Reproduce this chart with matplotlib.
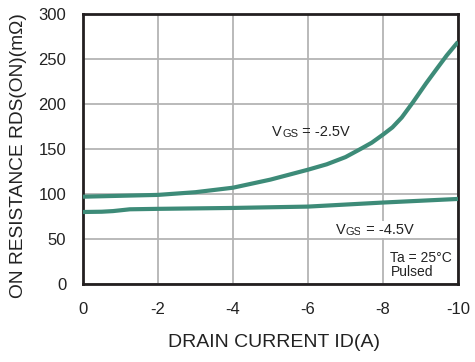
import matplotlib.pyplot as plt

plt.rcParams['font.family'] = ['Liberation Sans', 'DejaVu Sans']

# drain current (A) and on resistance (mOhm)
id_25 = [0, -1, -2, -3, -4, -5, -6, -6.5, -7, -7.4, -7.7, -8, -8.25, -8.5, -8.8,
         -9.15, -9.45, -9.7, -10]
rds_25 = [97, 98, 99, 102, 107, 116, 127, 133, 141, 150, 157, 166, 174, 185, 202,
          223, 240, 254, 269]

id_45 = [0, -0.5, -0.8, -1.25, -2, -4, -6, -8, -10]
rds_45 = [80, 80.3, 81, 83, 83.5, 84.5, 86, 90.5, 94.5]

x_ticks = [0, -2, -4, -6, -8, -10]
y_ticks = [0, 50, 100, 150, 200, 250, 300]

green = '#3d8b78'

fig = plt.figure(figsize=(4.75, 3.62), dpi=100)
ax = fig.add_axes([0.1747, 0.2155, 0.7895, 0.7458])

ax.plot(id_25, rds_25, color=green, lw=3, solid_capstyle='butt', zorder=3)
ax.plot(id_45, rds_45, color=green, lw=3, solid_capstyle='butt', zorder=3)

ax.set_xlim(0, -10)
ax.set_ylim(0, 300)
ax.set_xticks(x_ticks)
ax.set_yticks(y_ticks)
ax.set_xticklabels([str(v) for v in x_ticks])
ax.grid(True, color='#b4b4b4', lw=1.3)
ax.set_axisbelow(True)
ax.tick_params(length=0, labelsize=12, colors='#222222')
ax.tick_params(axis='y', pad=12)
ax.tick_params(axis='x', pad=13)
for s in ax.spines.values():
    s.set_linewidth(2)
    s.set_color('#231f20')

# annotations "VGS = ..." with small GS
def vgs_label(x, y, value, box=False):
    kw = {}
    if box:
        kw = dict(bbox=dict(facecolor='white', edgecolor='none', pad=1))
    t1 = ax.text(x, y, 'V', fontsize=10.5, color='#222222', va='baseline', zorder=4, **kw)
    t2 = ax.annotate('GS', xy=(1, 0), xycoords=t1, fontsize=8, color='#222222',
                     va='bottom', zorder=4, **kw)
    ax.annotate(' = ' + value, xy=(1, 0), xycoords=t2, fontsize=10.5, color='#222222',
                va='bottom', zorder=4, **kw)

vgs_label(-5.05, 164, '-2.5V')
vgs_label(-6.75, 56, '-4.5V', box=True)

ax.text(-8.2, 6, 'Ta = 25°C\nPulsed', fontsize=10, color='#222222', va='bottom',
        ha='left', linespacing=1.0, zorder=4,
        bbox=dict(facecolor='white', edgecolor='none', pad=2))

fig.text(0.577, 0.03, 'DRAIN CURRENT ID(A)', fontsize=14, ha='center', va='bottom',
         color='#222222')
fig.text(0.04, 0.177, 'ON RESISTANCE RDS(ON)(mΩ)', fontsize=13.8, rotation=90,
         ha='center', va='bottom', color='#222222')

fig.savefig('out.png', dpi=100)
